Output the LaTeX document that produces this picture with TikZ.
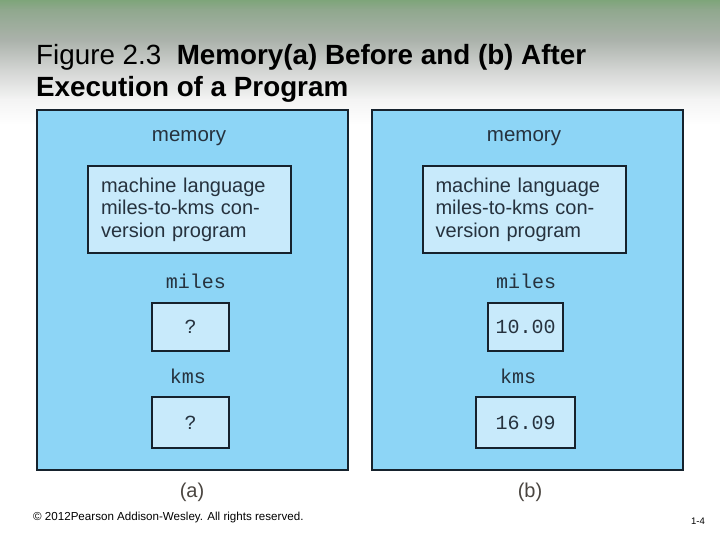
\documentclass[tikz,border=0pt]{standalone}
\usepackage{fontspec}
\setmainfont{Liberation Sans}
\setmonofont{Liberation Mono}
\definecolor{gA}{HTML}{7EA57A}
\definecolor{gB}{HTML}{90A88E}
\definecolor{gC}{HTML}{ABB2AB}
\definecolor{gD}{HTML}{D3D5D3}
\definecolor{gE}{HTML}{F4F4F4}
\definecolor{memfill}{HTML}{8DD5F6}
\definecolor{cellfill}{HTML}{C8EAFB}
\definecolor{edge}{HTML}{16222D}
\definecolor{boxtext}{HTML}{26323E}
\definecolor{captext}{HTML}{4A4540}
\tikzset{
  membox/.style={draw=edge, line width=2pt, fill=memfill, inner sep=0pt},
  cellbox/.style={draw=edge, line width=2pt, fill=cellfill, inner sep=0pt, text=boxtext,
    font=\ttfamily\fontsize{20}{22}\selectfont},
  progbox/.style={draw=edge, line width=2pt, fill=cellfill, inner xsep=13pt, inner ysep=0pt,
    text=boxtext, align=left, text width=177pt, minimum height=87pt,
    font=\fontsize{20}{22.5}\selectfont},
  lbl/.style={text=boxtext, inner sep=0pt, font=\fontsize{20.5}{22}\selectfont},
  monolbl/.style={text=boxtext, inner sep=0pt, font=\ttfamily\fontsize{20}{22}\selectfont},
  caplbl/.style={text=captext, inner sep=0pt, font=\fontsize{20}{22}\selectfont},
  titletxt/.style={anchor=west, inner sep=0pt, text=black, font=\fontsize{27.8}{32}\selectfont},
}
\begin{document}
\begin{tikzpicture}[x=1pt, y=-1pt]
\useasboundingbox (0,0) rectangle (720,540);
\fill[white] (0,0) rectangle (720,540);
% background gradient
\shade[top color=gA, bottom color=gB] (0,0) rectangle (720,10);
\shade[top color=gB, bottom color=gC] (0,10) rectangle (720,40);
\shade[top color=gC, bottom color=gD] (0,40) rectangle (720,70);
\shade[top color=gD, bottom color=gE] (0,70) rectangle (720,100);
\shade[top color=gE, bottom color=white] (0,100) rectangle (720,125);
% title
\node[titletxt] (t1) at (36,57) {Figure 2.3\ \ \textbf{Memory(a) Before and (b) After}};
\node[titletxt] (t2) at (36,89) {\textbf{Execution of a Program}};
% (a)
\node[membox, minimum width=311pt, minimum height=360pt] (memA) at (192.5,290) {};
\node[lbl] (memlblA) at (189,138) {memory};
\node[progbox] (progA) at (189.5,209.5) {machine language\\miles-to-kms con-\\version program};
\node[monolbl] (milesA) at (196,281) {miles};
\node[cellbox, minimum width=77pt, minimum height=48pt] (mvalA) at (190.5,327) {?};
\node[monolbl] (kmsA) at (188,376) {kms};
\node[cellbox, minimum width=77pt, minimum height=51pt] (kvalA) at (190.5,422.5) {?};
\node[caplbl] (capA) at (192,492) {(a)};
% (b)
\node[membox, minimum width=311pt, minimum height=360pt] (memB) at (527.5,290) {};
\node[lbl] (memlblB) at (524,138) {memory};
\node[progbox] (progB) at (524,209.5) {machine language\\miles-to-kms con-\\version program};
\node[monolbl] (milesB) at (526,281) {miles};
\node[cellbox, minimum width=75pt, minimum height=48pt] (mvalB) at (525.5,327) {10.00};
\node[monolbl] (kmsB) at (518,376) {kms};
\node[cellbox, minimum width=99pt, minimum height=51pt] (kvalB) at (525.5,422.5) {16.09};
\node[caplbl] (capB) at (530,492) {(b)};
% footer
\node[anchor=west, inner sep=0pt, font=\fontsize{11.6}{13}\selectfont] (copy) at (33,517) {© 2012Pearson Addison-Wesley. All rights reserved.};
\node[inner sep=0pt, font=\fontsize{9.5}{11}\selectfont] (pg) at (698,521) {1-4};
\end{tikzpicture}
\end{document}
